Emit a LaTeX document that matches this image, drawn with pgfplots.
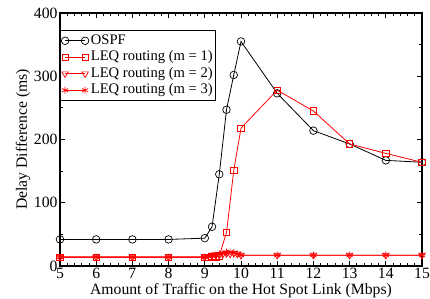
\documentclass[border=0pt]{standalone}
\usepackage{fontspec}
\setmainfont{Liberation Serif}
\usepackage{pgfplots}
\pgfplotsset{compat=1.18}
\newcommand{\myfont}{\fontsize{15.7bp}{18bp}\selectfont}
\newcommand{\legfont}{\fontsize{14.6bp}{17bp}\selectfont}
\begin{document}
\begin{tikzpicture}[font=\myfont]
\begin{axis}[
  name=ax,
  scale only axis,
  width=362bp, height=253bp,
  xmin=5, xmax=15, ymin=0, ymax=400,
  xtick={5,6,...,15}, ytick={0,100,...,400},
  minor x tick num=4, minor y tick num=1,
  tick align=inside,
  major tick length=5bp, minor tick length=3bp,
  xtick pos=both, ytick pos=both,
  xticklabel pos=lower, yticklabel pos=left,
  axis line style={line width=1.2pt},
  every tick/.style={black, line width=0.8pt},
  /pgf/number format/assume math mode=true,
  tick label style={font=\myfont},
  xticklabel style={yshift=1bp},
  yticklabel style={xshift=1bp},
  xlabel={Amount of Traffic on the Hot Spot Link (Mbps)},
  ylabel={Delay Difference (ms)},
  xlabel style={font=\myfont, at={(axis description cs:0.5,0)}, anchor=base, yshift=-29bp},
  ylabel style={font=\myfont, at={(axis description cs:-0.0912,0.5)}, anchor=base},
  legend style={at={(0,1)}, yshift=-17.5bp, anchor=north west, draw=black, line width=0.6pt,
    font=\legfont, inner sep=1bp, row sep=-1.5bp, cells={anchor=west},
    nodes={text height=10.5bp, text depth=3.5bp}},
  legend image code/.code={\draw[#1] plot coordinates {(0bp,0bp) (20bp,0bp)};},
  every axis plot/.append style={line width=0.8pt},
]
\addplot[black, mark=o, mark size=3.8bp, mark options={line width=0.7pt}] coordinates {
(5,42) (6,42) (7,42) (8,42) (9,44) (9.2,62) (9.4,145) (9.6,247) (9.8,302) (10,355)
(11,273) (12,214) (13,193) (14,167) (15,164)};
\addlegendentry{OSPF}
\addplot[red, mark=square, mark size=3.2bp, mark options={line width=0.7pt}] coordinates {
(5,14) (6,14) (7,14) (8,14) (9,14) (9.1,14) (9.2,15) (9.3,14) (9.4,16) (9.6,53) (9.8,151) (10,218)
(11,278) (12,245) (13,193) (14,178) (15,164)};
\addlegendentry{LEQ routing (m = 1)}
\addplot[red, mark=triangle, mark size=3.8bp, mark options={rotate=180, line width=0.7pt}] coordinates {
(5,14) (6,14) (7,14) (8,14) (9,14) (9.2,17) (9.3,18) (9.4,17) (9.5,19) (9.6,20) (9.7,19) (9.8,20) (9.9,19) (10,17)
(11,17) (12,17) (13,17) (14,17) (15,17)};
\addlegendentry{LEQ routing (m = 2)}
\addplot[red, mark=asterisk, mark size=3.5bp, mark options={line width=0.7pt}] coordinates {
(5,14) (6,14) (7,14) (8,14) (9,14) (9.1,15) (9.2,16) (9.3,17) (9.4,19) (9.5,20) (9.6,22) (9.7,22) (9.8,21) (9.9,19) (10,17)
(11,17) (12,17) (13,17) (14,17) (15,17)};
\addlegendentry{LEQ routing (m = 3)}
\end{axis}
\pgfresetboundingbox
\path[use as bounding box] ([xshift=-60bp,yshift=-33bp]ax.south west) rectangle ([xshift=8bp,yshift=13bp]ax.north east);
\end{tikzpicture}
\end{document}
